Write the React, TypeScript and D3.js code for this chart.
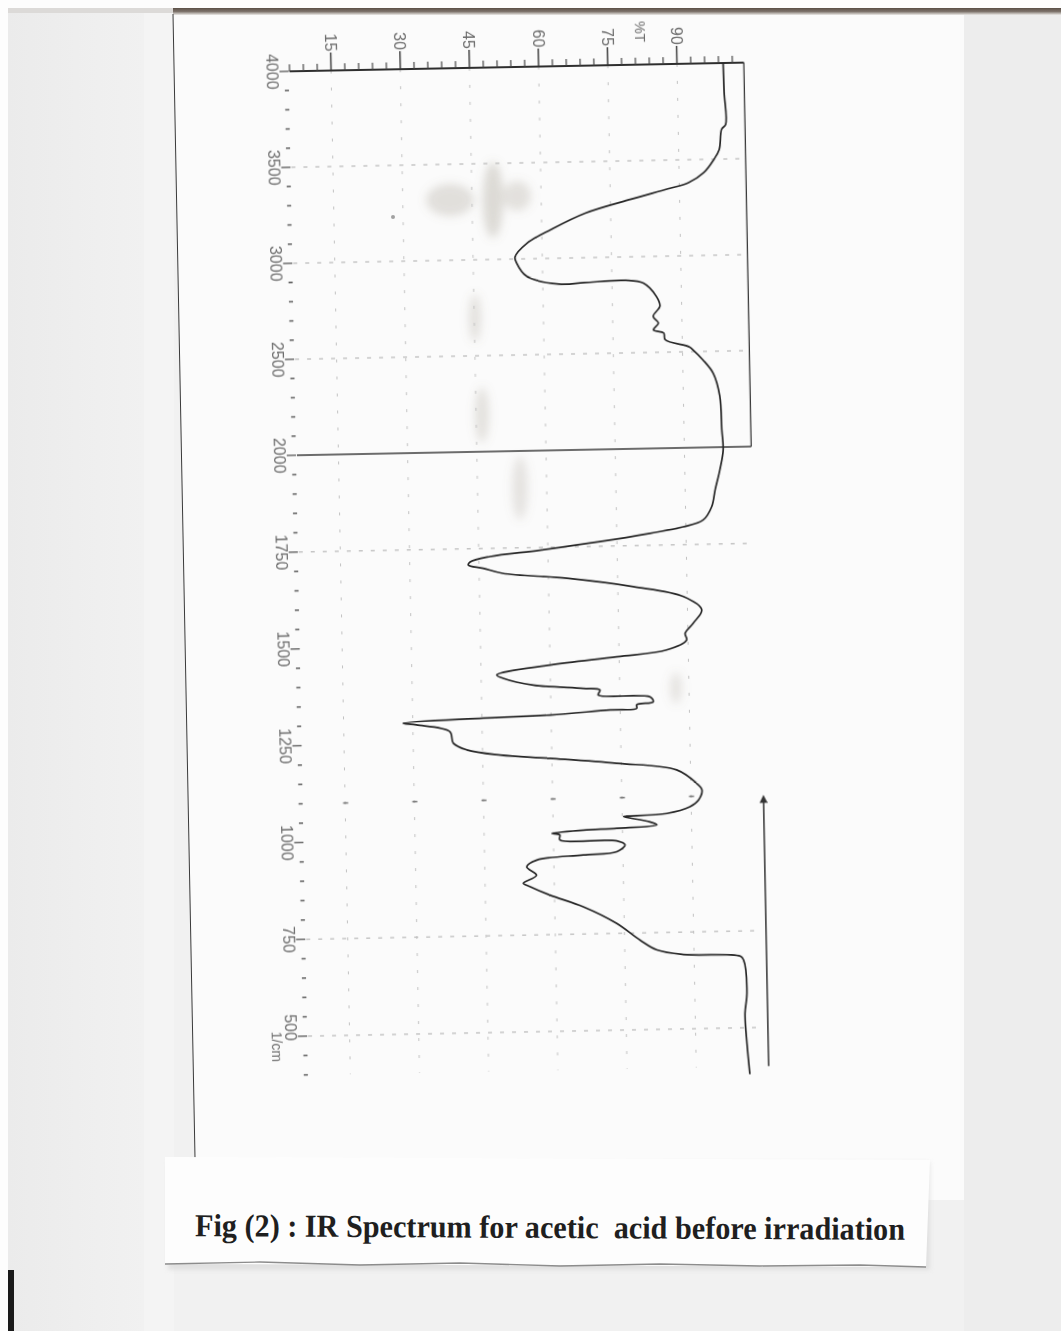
import React from 'react';
import * as d3 from 'd3';

// ---- data (wavenumber in 1/cm, %T) ----
const wavenumbers = [
  4000, 3850, 3680, 3655, 3550, 3495, 3430, 3380, 3350, 3300, 3232, 3150, 3080, 3010, 2980,
  2910, 2865, 2870, 2878, 2862, 2790, 2740, 2688, 2652, 2617, 2600, 2565, 2525, 2509, 2456,
  2384, 2265, 2090, 1992, 1941, 1890, 1847, 1813, 1796, 1781, 1762, 1743, 1729, 1716, 1708,
  1699, 1685, 1669, 1644, 1616, 1581, 1547, 1521, 1504, 1479, 1464, 1446, 1423, 1414, 1395,
  1384, 1379, 1366, 1359, 1346, 1339, 1330, 1327, 1317, 1312, 1303, 1298, 1279, 1249, 1231,
  1216, 1205, 1189, 1169, 1133, 1116, 1090, 1073, 1057, 1052, 1051, 1036, 1028, 1021, 1018,
  1011, 1007, 994, 989, 978, 961, 954, 943, 926, 904, 884, 875, 852, 820, 776,
  731, 705, 692, 685, 675, 589, 537, 459, 380,
];
const transmittance = [
  100.0, 100.1, 100.3, 99.4, 98.8, 97.5, 95.3, 92.0, 87.5, 79.5, 69.5, 62.0, 56.7, 54.1, 54.4,
  56.5, 63.5, 69.0, 78.0, 81.8, 84.6, 85.3, 83.8, 84.9, 83.8, 86.0, 86.3, 91.5, 92.3, 94.4,
  96.6, 97.9, 98.2, 98.4, 97.6, 96.5, 95.7, 93.8, 89.4, 82.2, 71.3, 58.3, 47.4, 43.1, 42.7,
  45.9, 50.1, 64.0, 78.4, 89.2, 93.1, 91.2, 89.4, 89.7, 85.3, 74.5, 60.0, 48.4, 49.8, 56.3,
  67.1, 70.7, 70.3, 81.5, 82.2, 78.6, 78.6, 72.8, 59.8, 45.3, 27.9, 30.8, 38.0, 38.7, 41.6,
  48.8, 59.6, 74.0, 87.0, 91.3, 92.4, 91.6, 89.7, 84.7, 76.0, 75.3, 81.0, 82.5, 73.8, 66.5,
  59.7, 61.4, 61.4, 73.7, 75.5, 73.7, 66.4, 56.3, 54.1, 56.2, 53.3, 54.7, 59.0, 66.2, 73.3,
  78.4, 82.0, 87.7, 100.0, 100.7, 101.3, 100.8, 101.1, 101.6,
];
const pctMajorTicks = [15, 30, 45, 60, 75, 90];
const wnLabels = [4000, 3500, 3000, 2500, 2000, 1750, 1500, 1250, 1000, 750, 500];
const wnGridlines = [3500, 3000, 2500, 1750, 750, 500];
const markerRow = 1100;
const caption = 'Fig (2) : IR Spectrum for acetic  acid before irradiation';

export default function App() {
  const W = 1061;
  const H = 1331;
  const x = d3.scaleLinear().domain([0, 100]).range([271.3, 732.6]);
  const y = d3.scaleLinear().domain([4000, 2000, 400]).range([67, 451, 1070.7]);

  const pts: [number, number][] = wavenumbers.map((w, i) => [x(transmittance[i]), y(w)]);
  const spectrum = d3.line().curve(d3.curveCatmullRom.alpha(0.5))(pts) || '';

  const pctMinor = d3.range(6, 103, 3).filter((v) => v % 15 !== 0);
  const wnMinor = [...d3.range(4000, 2000, -100), ...d3.range(2000, 399, -50)].filter(
    (v) => !wnLabels.includes(v)
  );

  const axisLeftT = 6;
  const axisRightT = 104.5;
  const penT = 105.7;
  const labelFont = "'Liberation Sans', Arial, sans-serif";
  const labelColor = '#6c6c6c';

  const stains = [
    { cx: 450, cy: 200, rx: 24, ry: 16, o: 0.22 },
    { cx: 493, cy: 200, rx: 10, ry: 38, o: 0.26 },
    { cx: 517, cy: 196, rx: 14, ry: 15, o: 0.2 },
    { cx: 475, cy: 318, rx: 6, ry: 24, o: 0.2 },
    { cx: 482, cy: 415, rx: 7, ry: 28, o: 0.2 },
    { cx: 520, cy: 488, rx: 8, ry: 32, o: 0.18 },
    { cx: 676, cy: 688, rx: 6, ry: 16, o: 0.18 },
  ];

  return (
    <svg
      width={W}
      height={H}
      viewBox={`0 0 ${W} ${H}`}
      style={{ position: 'absolute', left: 0, top: 0, display: 'block' }}
    >
      <defs>
        <filter id="blur5" x="-50%" y="-50%" width="200%" height="200%">
          <feGaussianBlur stdDeviation="5" />
        </filter>
        <filter id="blur2" x="-50%" y="-50%" width="200%" height="200%">
          <feGaussianBlur stdDeviation="2" />
        </filter>
        <linearGradient id="topband" x1="0" y1="0" x2="0" y2="1">
          <stop offset="0" stopColor="#5b4f46" />
          <stop offset="0.5" stopColor="#7d736b" />
          <stop offset="1" stopColor="#eceae7" />
        </linearGradient>
        <linearGradient id="leftside" x1="0" y1="0" x2="1" y2="0">
          <stop offset="0" stopColor="#ebebeb" />
          <stop offset="1" stopColor="#f1f1f1" />
        </linearGradient>
      </defs>

      {/* scan background */}
      <rect x={0} y={0} width={W} height={H} fill="#f1f1f1" />
      <rect x={0} y={0} width={W} height={8} fill="#fdfdfd" />
      <rect x={0} y={0} width={8} height={H} fill="#fdfdfd" />
      <rect x={8} y={8} width={136} height={H - 8} fill="url(#leftside)" />
      <rect x={144} y={8} width={30} height={H - 8} fill="#f4f4f4" />
      <rect x={8} y={1270} width={6} height={61} fill="#1a1a1a" />
      {/* chart paper */}
      <polygon points="173,12 964,12 966,1200 196,1200" fill="#fbfbfb" />
      <rect x={964} y={12} width={97} height={H - 12} fill="#ededed" />
      <rect x={173} y={8} width={W - 173} height={7} fill="url(#topband)" />
      <rect x={8} y={8} width={165} height={5} fill="#dcdad8" />
      <line x1={173} y1={14} x2={195} y2={1158} stroke="#3a3a3a" strokeWidth={1} />

      {/* stains on paper */}
      <g filter="url(#blur5)">
        {stains.map((s, i) => (
          <ellipse key={i} cx={s.cx} cy={s.cy} rx={s.rx} ry={s.ry} fill="#857c6a" opacity={s.o} />
        ))}
      </g>
      <circle cx={393} cy={217} r={2} fill="#666" opacity={0.6} />

      {/* chart, slightly tilted like the scan */}
      <g transform="rotate(-1.1 520 560)">
        {/* dotted gridlines */}
        {wnGridlines.map((w) => (
          <line
            key={'hg' + w}
            x1={x(axisLeftT)}
            x2={x(axisRightT)}
            y1={y(w)}
            y2={y(w)}
            stroke="#ababab"
            strokeWidth={1}
            strokeDasharray="4 8"
          />
        ))}
        {pctMajorTicks.map((p) => (
          <line
            key={'vg' + p}
            x1={x(p)}
            x2={x(p)}
            y1={y(4000)}
            y2={y(400)}
            stroke="#c2c2c2"
            strokeWidth={1}
            strokeDasharray="3 14"
          />
        ))}
        {pctMajorTicks.map((p) => (
          <line
            key={'mr' + p}
            x1={x(p) - 2}
            x2={x(p) + 3}
            y1={y(markerRow)}
            y2={y(markerRow)}
            stroke="#7a7a7a"
            strokeWidth={1.6}
          />
        ))}

        {/* 2000 1/cm scale-change line */}
        <line x1={x(axisLeftT)} x2={x(axisRightT)} y1={y(2000)} y2={y(2000)} stroke="#3c3c3c" strokeWidth={1.3} />

        {/* top %T axis */}
        <line x1={x(axisLeftT)} x2={x(axisRightT)} y1={y(4000)} y2={y(4000)} stroke="#2e2e2e" strokeWidth={1.8} />
        <line x1={x(axisRightT)} x2={x(axisRightT)} y1={y(4000)} y2={y(2000)} stroke="#3a3a3a" strokeWidth={1.3} />
        {pctMinor.map((p) => (
          <line key={'pm' + p} x1={x(p)} x2={x(p)} y1={y(4000)} y2={y(4000) - 7} stroke="#444" strokeWidth={1.2} />
        ))}
        {pctMajorTicks.map((p) => (
          <g key={'pM' + p}>
            <line x1={x(p)} x2={x(p)} y1={y(4000)} y2={y(4000) - 18} stroke="#333" strokeWidth={1.4} />
            <text
              transform={`translate(${x(p)},${y(4000) - 28}) rotate(90)`}
              textAnchor="middle"
              dominantBaseline="central"
              fontFamily={labelFont}
              fontSize={16}
              fill={labelColor}
            >
              {p}
            </text>
          </g>
        ))}
        <text
          transform={`translate(${x(82.2)},${y(4000) - 33}) rotate(90)`}
          textAnchor="middle"
          dominantBaseline="central"
          fontFamily={labelFont}
          fontSize={14}
          fill={labelColor}
        >
          %T
        </text>

        {/* wavenumber axis ticks & labels (left side) */}
        {wnMinor.map((w) => (
          <line key={'wm' + w} x1={x(4.9)} x2={x(5.8)} y1={y(w)} y2={y(w)} stroke="#666" strokeWidth={1.6} />
        ))}
        {wnLabels.map((w) => (
          <g key={'wM' + w}>
            <line x1={x(3.8)} x2={x(5.8)} y1={y(w)} y2={y(w)} stroke="#555" strokeWidth={1.3} />
            <text
              transform={`translate(${x(2.3)},${w === 500 ? y(w) - 9 : y(w)}) rotate(90)`}
              textAnchor="middle"
              dominantBaseline="central"
              fontFamily={labelFont}
              fontSize={16}
              fill={labelColor}
            >
              {w}
            </text>
          </g>
        ))}
        <text
          transform={`translate(${x(-0.8)},${y(500) + 10}) rotate(90)`}
          textAnchor="middle"
          dominantBaseline="central"
          fontFamily={labelFont}
          fontSize={14}
          fill={labelColor}
        >
          1/cm
        </text>

        {/* pen position marker line at the right */}
        <line x1={x(penT)} x2={x(penT)} y1={y(1090)} y2={y(400)} stroke="#333" strokeWidth={1.5} />
        <path d={`M${x(penT)},${y(1090) - 4} l-4,8 l8,0 z`} fill="#333" />

        {/* spectrum */}
        <path d={spectrum} fill="none" stroke="#262626" strokeWidth={1.7} strokeLinejoin="round" />
      </g>

      {/* caption paper strip */}
      <rect x={168} y={1162} width={762} height={108} fill="#d2d2d2" filter="url(#blur2)" opacity={0.55} />
      <polygon points="165,1157 930,1160 926,1267 165,1264" fill="#fdfdfd" />
      <polyline
        points="165,1264 260,1262 360,1265 460,1263 560,1266 660,1264 760,1266 860,1265 926,1267"
        fill="none"
        stroke="#8c8c8c"
        strokeWidth={1.3}
      />
      <text
        x={195}
        y={1238}
        transform="rotate(0.3 550 1238)"
        fontFamily="'Liberation Serif', 'Times New Roman', serif"
        fontWeight="bold"
        fontSize={32}
        fill="#1f1f1f"
        textLength={710}
        lengthAdjust="spacingAndGlyphs"
        style={{ whiteSpace: 'pre' }}
      >
        {caption}
      </text>
    </svg>
  );
}
